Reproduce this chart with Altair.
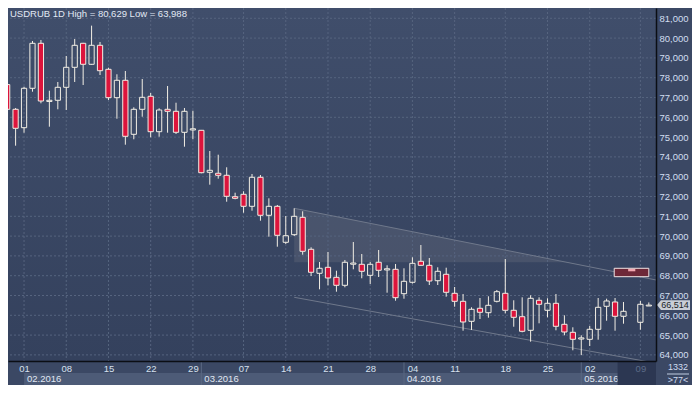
import altair as alt
import pandas as pd
import numpy as np

# ---------------- data ----------------
idx = list(range(0, 74)) + [75, 76]
opens = [77652, 76404, 75475, 77465, 79737, 76800, 76859, 77515, 78525, 79737,
         78677, 79636, 78424, 76990, 77869, 75141, 76404, 77061, 75273, 76404,
         76303, 75242, 75360, 75343, 73222, 73172, 73071, 71990, 72111, 71505,
         72970, 71051, 71505, 69687, 70071, 70949, 69333, 68121, 68424, 67919,
         67515, 68580, 68576, 68020, 68677, 68290, 68323, 67091, 67667, 68727,
         68525, 67747, 68071, 67111, 66707, 65697, 66354, 66131, 66707, 67111,
         66253, 65929, 65242, 66758, 66253, 66606, 65545, 65141, 64800, 64788,
         65293, 66455, 66672, 65949, 65646, 66470]
highs = [77720, 76470, 77545, 79854, 79904, 77343, 77783, 79096, 79955, 79760,
         80629, 79803, 78505, 78172, 78338, 76505, 77934, 77227, 76455, 77581,
         76737, 76470, 76333, 75360, 74298, 74111, 73475, 72192, 72263, 73136,
         73086, 71909, 71571, 71015, 71404, 71253, 69434, 68692, 69197, 68252,
         68793, 69702, 69096, 68692, 69298, 68525, 68591, 68374, 68929, 69551,
         68894, 68424, 68404, 67429, 67076, 66404, 66874, 66960, 67278, 68843,
         66758, 66909, 67010, 66909, 66859, 67076, 66000, 65394, 64990, 65460,
         66874, 66839, 66874, 66672, 66723, 66650]
lows = [76350, 74566, 75222, 77293, 76707, 75525, 76404, 76369, 77783, 77631,
        78650, 78136, 76874, 75929, 74616, 74889, 76030, 74990, 75020, 75222,
        75157, 74515, 74889, 73172, 72596, 72899, 71737, 71859, 71182, 71283,
        70778, 69970, 69465, 69601, 70005, 69061, 67985, 67313, 67515, 67192,
        67414, 68323, 67869, 67581, 67934, 67141, 66737, 66838, 67600, 68500,
        67530, 67530, 66939, 66434, 65222, 65258, 65813, 65879, 66650, 66101,
        65424, 65141, 64667, 65596, 65899, 65242, 64990, 64232, 63988, 64450,
        64768, 65727, 65222, 65576, 65273, 66470]
closes = [76404, 75444, 77465, 79737, 76823, 76860, 77515, 78525, 79636, 78677,
          79636, 78354, 76990, 77869, 75040, 76404, 77010, 75273, 76369, 76303,
          75242, 76303, 75420, 73202, 73323, 73071, 72010, 71909, 71505, 72970,
          71051, 71505, 70040, 70020, 71000, 69232, 68172, 68374, 67884, 67515,
          68677, 68640, 68222, 68576, 68273, 68350, 66889, 67717, 68626, 68525,
          67732, 68222, 67162, 66707, 65662, 66303, 66152, 66505, 67192, 66253,
          65899, 65192, 66859, 66556, 66606, 65444, 65157, 64788, 64860, 65293,
          66404, 66723, 65949, 66202, 66556, 66514]

title_text = ["USDRUB 1D High = 80,629 Low = 63,988"]
day_tick_idx = [2, 7, 12, 17, 22, 28, 33, 38, 43, 48, 53, 59, 64, 69, 75]
day_tick_lab = ["01", "08", "15", "22", "29", "07", "14", "21", "28", "04", "11", "18", "25", "02", "09"]
price_ticks = [64000, 65000, 66000, 67000, 68000, 69000, 70000, 71000, 72000,
               73000, 74000, 75000, 76000, 77000, 78000, 79000, 80000, 81000]
months = ["02.2016", "03.2016", "04.2016", "05.2016"]
month_start = [2, 23, 47, 68]
month_end = [23, 47, 68, 76.85]

# channel (trend lines) and zones, in data units
ch_x = [34, 76.93]
ch_upper = [71404, 67778]
ch_lower = [66909, 63576]
zone_x = [34, 66.2]
zone_top = [71404, 68680]
zone_base = 68680
band_x = [0.1, 34, 34, 76.93]
band_top = [67530, 67530, 66909, 63576]
alert_box = {"i0": 71.9, "i1": 76.0, "v0": 68374, "v1": 67950}
alert_mark = {"i0": 73.55, "i1": 74.4, "v0": 68338, "v1": 68222}
future_from = 72.3
last_price = [66514]
last_price_txt = ["66,514"]
corner_txt = ["1332", ">77<"]

# ---------------- styling ----------------
FONT = "Liberation Sans"
RED = "#dc143c"
WHITE = "#f3efe5"
XD = [0.1, 76.85]
YD = [63692, 81520]
XS = alt.Scale(domain=XD, nice=False, zero=False)
YS = alt.Scale(domain=YD, nice=False, zero=False)

lab_expr = "[" + ",".join("'%s'" % s for s in day_tick_lab) + "][indexof([" + \
    ",".join(str(v) for v in day_tick_idx) + "], datum.value)]"
XAX = alt.Axis(values=day_tick_idx, labelExpr=lab_expr, title=None, grid=False,
               ticks=False, domainColor="#0b0e14", domainWidth=1.5,
               labelColor={"condition": {"test": "datum.value == 75", "value": "#5d6c88"},
                           "value": "#d6e0ee"},
               labelFont=FONT, labelFontSize=9.5, labelPadding=2, zindex=1,
               labelFlush=False, labelOverlap=False)
YAX = alt.Axis(orient="right", values=price_ticks, format=",.0f", title=None, grid=False,
               ticks=False, domainColor="#0b0e14", domainWidth=1.5,
               labelColor="#d2def0", labelFont=FONT, labelFontSize=9.5,
               labelPadding=3, zindex=1, labelFlush=False, labelOverlap=False)


def X(f):
    return alt.X(f, scale=XS, axis=XAX)


def Y(f):
    return alt.Y(f, scale=YS, axis=YAX)


# ---------------- frames ----------------
df = pd.DataFrame({"i": idx, "o": opens, "h": highs, "l": lows, "c": closes})
df["top"] = df[["o", "c"]].max(axis=1)
df["bot"] = df[["o", "c"]].min(axis=1)
df["i0"] = df["i"] - 0.31
df["i1"] = df["i"] + 0.31
df["fill"] = np.where(df["c"] >= df["o"], "transparent", RED)

wick = pd.concat([
    pd.DataFrame({"i": df["i"], "a": df["h"], "b": df["top"]}),
    pd.DataFrame({"i": df["i"], "a": df["bot"], "b": df["l"]}),
])

bg = pd.DataFrame({"i0": [XD[0]], "i1": [XD[1]], "v0": [YD[1]], "v1": [YD[0]]})
band = pd.DataFrame({"i": band_x, "v": band_top, "v2": [YD[0]] * 4, "k": [0, 1, 2, 3]})
zone = pd.DataFrame({"i": zone_x, "v": zone_top, "v2": [zone_base] * 2})
chan = pd.DataFrame({"i": ch_x * 2, "v": ch_upper + ch_lower, "s": ["u", "u", "l", "l"]})
hgrid = pd.DataFrame({"v": price_ticks})
vgrid = pd.DataFrame({"i": day_tick_idx})
abox = pd.DataFrame([alert_box])
amark = pd.DataFrame([alert_mark])
mon = pd.DataFrame({"m": months, "i0": month_start, "i1": month_end})
msep = pd.DataFrame({"i": month_start[1:]})
fut = pd.DataFrame({"i0": [future_from], "i1": [XD[1]]})
tag = pd.DataFrame({"v": last_price, "t": last_price_txt})

grad = alt.LinearGradient(gradient="linear", x1=0, x2=0, y1=0, y2=1,
                          stops=[alt.GradientStop(color="#404e6b", offset=0),
                                 alt.GradientStop(color="#34415d", offset=1)])

layers = [
    alt.Chart(bg).mark_rect(color=grad, clip=True).encode(
        x=X("i0:Q"), x2="i1:Q", y=Y("v0:Q"), y2="v1:Q"),
    alt.Chart(band).mark_area(color="#2e3a55", clip=True, interpolate="linear").encode(
        x=X("i:Q"), y=Y("v:Q"), y2="v2:Q", order="k:Q"),
    alt.Chart(zone).mark_area(color="#a3a3a3", opacity=0.16, clip=True).encode(
        x=X("i:Q"), y=Y("v:Q"), y2="v2:Q"),
    alt.Chart(hgrid).mark_rule(color="#56647f", strokeDash=[2, 2], strokeWidth=1).encode(
        y=Y("v:Q")),
    alt.Chart(vgrid).mark_rule(color="#56647f", strokeDash=[2, 2], strokeWidth=1).encode(
        x=X("i:Q")),
    alt.Chart(chan).mark_line(color="#6f788b", strokeWidth=1, clip=True).encode(
        x=X("i:Q"), y=Y("v:Q"), detail="s:N"),
    alt.Chart(abox).mark_rect(color="#6e2838", stroke="#f0e4e4", strokeWidth=1).encode(
        x=X("i0:Q"), x2="i1:Q", y=Y("v0:Q"), y2="v1:Q"),
    alt.Chart(amark).mark_rect(color="#f2a7b0").encode(
        x=X("i0:Q"), x2="i1:Q", y=Y("v0:Q"), y2="v1:Q"),
    alt.Chart(wick).mark_rule(color=WHITE, strokeWidth=1, clip=True).encode(
        x=X("i:Q"), y=Y("a:Q"), y2="b:Q"),
    alt.Chart(df).mark_rect(stroke=WHITE, strokeWidth=1, clip=True).encode(
        x=X("i0:Q"), x2="i1:Q", y=Y("top:Q"), y2="bot:Q",
        fill=alt.Fill("fill:N", scale=None)),
    alt.Chart(pd.DataFrame({"t": title_text})).mark_text(
        align="left", baseline="middle", font=FONT, fontSize=9.5, color="#e2e9f4").encode(
        x=alt.value(2), y=alt.value(6), text="t:N"),
    alt.Chart(mon).mark_rect(color="#4d5b77").encode(
        x=X("i0:Q"), x2="i1:Q", y=alt.value(365), y2=alt.value(377)),
    alt.Chart(msep).mark_rule(color="#5a6883", strokeWidth=1).encode(
        x=X("i:Q"), y=alt.value(353), y2=alt.value(377)),
    alt.Chart(mon).mark_text(align="left", baseline="middle", dx=3, font=FONT,
                             fontSize=9.5, color="#e0e7f3").encode(
        x=X("i0:Q"), y=alt.value(371), text="m:N"),
    alt.Chart(fut).mark_rect(color="#2c3752").encode(
        x=X("i0:Q"), x2="i1:Q", y=alt.value(354), y2=alt.value(377)),
    alt.Chart(tag).mark_point(shape="M-1,0L-0.76,-0.3L1,-0.3L1,0.3L-0.76,0.3Z",
                              size=1089, filled=True, color="#c9ced6", opacity=1,
                              strokeWidth=0).encode(
        x=alt.value(665.5), y=Y("v:Q")),
    alt.Chart(tag).mark_text(align="center", baseline="middle", font=FONT, fontSize=9,
                             color="#1b1f27").encode(
        x=alt.value(667), y=Y("v:Q"), text="t:N"),
    alt.Chart(pd.DataFrame({"t": [corner_txt[0]]})).mark_text(
        align="center", baseline="middle", font=FONT, fontSize=9, color="#d0dcf0").encode(
        x=alt.value(670), y=alt.value(359), text="t:N"),
    alt.Chart(pd.DataFrame({"t": [corner_txt[1]]})).mark_text(
        align="center", baseline="middle", font=FONT, fontSize=9, color="#d0dcf0").encode(
        x=alt.value(670), y=alt.value(372), text="t:N"),
    alt.Chart(pd.DataFrame({"t": [corner_txt[0]]})).mark_rule(color="#c0cce0", strokeWidth=1).encode(
        x=alt.value(659), x2=alt.value(681), y=alt.value(366)),
]

chart = alt.layer(*layers).properties(
    width=648, height=353,
    autosize=alt.AutoSizeParams(type="none"),
    padding={"left": 0, "top": 0, "right": 36, "bottom": 24},
    background="#3b4864",
).configure_view(strokeWidth=0)

chart.save("out.html", embed_options={"renderer": "svg", "actions": False})
